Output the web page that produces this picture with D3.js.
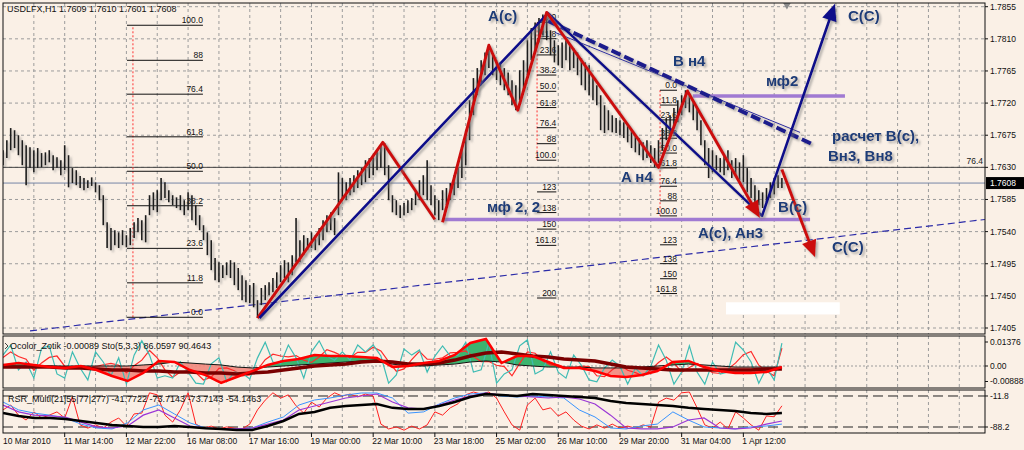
<!DOCTYPE html>
<html><head><meta charset="utf-8">
<script src="https://cdn.jsdelivr.net/npm/d3@7"></script>
<style>
body{margin:0;background:#faf0e6;}
svg{display:block;font-family:"Liberation Sans",Arial,sans-serif;}
</style></head><body>
<svg id="c" width="1024" height="450"></svg>
<script>
// ---------------- DATA ----------------
const symbolHeader = "USDLFX,H1  1.7609 1.7610 1.7601 1.7608";
const lastPrice = 1.7608;
const priceTicks = [1.7405,1.7450,1.7495,1.7540,1.7585,1.7630,1.7675,1.7720,1.7765,1.7810,1.7855];
const firstDateLabel = "10 Mar 2010";
const dateLabels = ["11 Mar 14:00","12 Mar 22:00","16 Mar 08:00","17 Mar 16:00","19 Mar 00:00","22 Mar 10:00","23 Mar 18:00","25 Mar 02:00","26 Mar 10:00","29 Mar 20:00","31 Mar 04:00","1 Apr 12:00"];

// H1 bars, every 2nd bar, price in pips (7654 -> 1.7654)
const barHigh = [7654,7668,7685,7682,7675,7668,7661,7658,7654,7657,
7650,7651,7654,7647,7644,7640,7661,7647,7629,7626,
7618,7615,7612,7616,7609,7605,7591,7553,7545,7542,
7539,7542,7535,7545,7553,7559,7556,7563,7591,7595,
7598,7615,7609,7598,7591,7588,7591,7584,7595,7591,
7577,7563,7549,7539,7528,7503,7497,7493,7497,7500,
7497,7489,7479,7472,7465,7468,7444,7461,7465,7469,
7475,7483,7493,7500,7497,7507,7559,7528,7535,7531,
7539,7535,7545,7556,7563,7567,7559,7623,7615,7609,
7615,7619,7626,7629,7640,7643,7647,7654,7661,7664,
7633,7591,7584,7577,7580,7584,7587,7598,7612,7619,
7640,7605,7591,7584,7598,7601,7608,7619,7629,7654,
7682,7724,7755,7769,7780,7791,7798,7787,7780,7777,
7769,7763,7752,7745,7766,7780,7808,7825,7833,7839,
7844,7847,7822,7808,7801,7805,7808,7801,7797,7791,
7783,7777,7773,7759,7745,7731,7717,7710,7703,7699,
7696,7693,7689,7682,7675,7671,7665,7668,7661,7657,
7668,7685,7699,7703,7713,7724,7731,7738,7734,7724,
7713,7696,7668,7657,7654,7647,7643,7647,7654,7640,
7643,7637,7647,7629,7615,7605,7598,7595,7601,7609,
7615,7619,7615];
const barLow = [7633,7643,7654,7657,7647,7633,7605,7629,7623,7629,
7630,7633,7637,7626,7629,7619,7626,7602,7608,7605,
7601,7598,7601,7604,7595,7584,7549,7517,7514,7521,
7517,7521,7518,7521,7531,7539,7528,7525,7563,7570,
7567,7584,7587,7581,7577,7573,7570,7563,7570,7556,
7549,7542,7528,7507,7486,7472,7469,7475,7479,7475,
7465,7458,7444,7441,7440,7434,7419,7437,7444,7451,
7455,7461,7469,7475,7469,7479,7497,7497,7507,7514,
7517,7514,7521,7528,7539,7542,7535,7563,7587,7584,
7591,7595,7601,7605,7609,7615,7619,7626,7629,7619,
7584,7567,7563,7559,7563,7566,7570,7577,7584,7591,
7584,7577,7563,7556,7570,7577,7584,7591,7601,7615,
7633,7668,7703,7731,7745,7759,7769,7759,7752,7745,
7738,7731,7717,7710,7724,7738,7759,7780,7794,7805,
7815,7808,7787,7777,7773,7769,7780,7766,7769,7759,
7745,7738,7731,7724,7717,7682,7678,7682,7679,7678,
7675,7671,7665,7657,7651,7647,7640,7643,7636,7630,
7636,7654,7668,7675,7685,7693,7703,7713,7707,7696,
7682,7661,7633,7615,7623,7626,7623,7619,7626,7615,
7618,7612,7609,7595,7587,7581,7577,7573,7581,7587,
7592,7601,7601];

// Fibonacci objects
const fibLevels1 = [0,11.8,23.6,38.2,50,61.8,76.4,88,100];
const fibLevels2 = [0,11.8,23.6,38.2,50,61.8,76.4,88,100,123,138,150,161.8,200];
const fibLevels3 = [0,11.8,23.6,38.2,50,61.8,76.4,88,100,123,138,150,161.8];
const fibLabelText = {0:"0.0",11.8:"11.8",23.6:"23.6",38.2:"38.2",50:"50.0",61.8:"61.8",76.4:"76.4",88:"88",100:"100.0",123:"123",138:"138",150:"150",161.8:"161.8",200:"200"};
const fibAnchors1 = [64.3,103.7,67.4, 7420,7829];
const fibAnchors2 = [277,287,277, 7833,7640];
const fibAnchors3 = [340.8,349.6,340.8, 7738,7562];

// wave drawings  [bar, pips]
const redZig1 = [[132,7419],[197,7665],[224,7557]];
const redZig2 = [[228,7553],[252,7801],[267,7710],[282,7847],[340,7630],[355,7737],[392.6,7559]];
const redArrow2 = [[404,7627],[421.2,7504]];
const blueZig = [[133,7419],[282.7,7846],[393.7,7562],[431.5,7859]];
const blueDash = [[282.7,7835],[420.1,7662]];
const blueThin = [[286.3,7819],[413.4,7679]];
const trendLine = [[14,7401],[509.3,7557]];
const purpleLevels = [[228.2,418.6,7557],[357.9,436.7,7730]];
const greenLevel = [340.8,426.3,7629];
const hLine764 = 1.7630;
const waveLabels = ["A(c)","B н4","мф2","C(C)","расчет B(c),","Bн3, Bн8","A н4","мф 2, 2","B(c)","A(c), Aн3","C(C)"];
const waveLabelAt = [[251.6,7835],[347.5,7772],[395.7,7744],[438.3,7835],[430,7667],[427.9,7639],[320.5,7609],[251,7567],[402,7567],[360.5,7531],[430,7511]];
const whiteBox = [[375,7441],[434,7424]];

// indicator 1 : Ocolor_Zotik + Stochastic
const osc1Label = "Ocolor_Zotik -0.00089  Sto(5,3,3) 86.0597 90.4643";
const osc1Ticks = [0.01376, 0.00, -0.00888];
const osc1TickText = ["0.01376","0.00","-0.00888"];
const oscMain = [0.0006,0.0017,0.0006,-0.0006,-0.0011,0,-0.0023,-0.0057,-0.0086,-0.0040,
0.0029,0.0023,-0.0023,-0.0052,-0.0097,-0.0063,-0.0029,0.0006,0.0029,0.0040,
0.0063,0.0057,0.0057,0.0052,0.0046,-0.0006,0,0.0017,0.0029,0.0063,
0.0132,0.0155,0.0017,0.0057,0.0057,0.0023,-0.0011,-0.0011,-0.0029,-0.0057,
-0.0063,-0.0052,-0.0029,0.0023,0.0029,-0.0006,-0.0029,-0.0040,-0.0040,-0.0034,
-0.0006];
const oscMa = [-0.0006,-0.0006,-0.0006,-0.0006,-0.0011,-0.0011,-0.0017,-0.0023,-0.0023,-0.0029,
-0.0029,-0.0034,-0.0034,-0.0040,-0.0040,-0.0046,-0.0040,-0.0034,-0.0023,-0.0011,
0,0.0006,0.0011,0.0023,0.0029,0.0023,0.0011,0.0011,0.0017,0.0034,
0.0057,0.0074,0.0080,0.0069,0.0057,0.0052,0.0040,0.0034,0.0029,0.0011,
-0.0006,-0.0011,-0.0017,-0.0023,-0.0023,-0.0023,-0.0023,-0.0023,-0.0023,-0.0017,
-0.0017];
const oscSlow = [0,0,0,0,0,0,0,0,0,0.0006,
0.0011,0.0023,0.0017,0.0011,0.0006,-0.0006,-0.0011,-0.0006,0,0.0006,
0.0011,0.0017,0.0023,0.0029,0.0034,0.0011,0,0,0.0006,0.0011,
0.0023,0.0029,0.0023,0.0006,0,-0.0006,-0.0006,-0.0006,-0.0011,-0.0011,
-0.0011,-0.0006,0,0.0006,0.0011,0.0006,0,-0.0006,-0.0006,-0.0006,
-0.0006];
const stochMain = [65,87,33,50,15,80,85,24,15,72,
37,11,72,50,20,59,2,65,96,65,
15,20,15,50,28,4,2,46,59,7,
28,26,13,59,93,50,46,87,59,15,
72,96,63,54,72,54,87,72,87,63,
4,22,78,65,76,28,63,85,63,65,
93,28,33,93,4,24,33,85,98,24,
33,72,28,15,65,43,11,7,37,54,
41,2,37,20,41,87,54,2,28,85,
28,2,50,24,28,93,76,50,4,37,
11,91];
const stochSignal = [60,72,62,56,32,48,60,63,41,37,
41,40,40,44,47,43,27,42,54,75,
59,33,17,28,31,27,11,17,36,37,
31,20,22,33,55,67,63,61,64,54,
49,61,77,71,63,60,71,71,82,74,
51,30,35,55,73,56,56,59,70,71,
74,62,51,51,43,40,20,47,72,69,
52,43,44,38,36,41,40,20,18,33,
44,32,27,20,33,49,61,48,28,38,
47,38,27,25,34,48,66,73,43,30,
20,80];

// indicator 2 : RSR_Multi (Williams %R family)
const osc2Label = "RSR_Multi(21|55|77|277) -41.7722 -73.7143 -73.7143 -54.1463";
const wprLevels = [-11.8, -88.2];
const wprLevelText = ["-11.8","-88.2"];
const wprBlack = [-53.7,-61,-66,-66,-68.5,-73.4,-78.3,-83,-85.7,-88,
-88,-86,-88,-91,-93,-95.6,-95.6,-85.7,-73.4,-56,
-51,-41,-36.5,-34,-31.5,-41,-44,-44,-36.5,-26.6,
-14.3,-6.9,-9.4,-11.8,-6.9,-9.4,-11.8,-14.3,-16.7,-24.1,
-29,-31.5,-34,-36.5,-41,-44,-46.3,-48.8,-53.7,-56,
-53.7];
const wprPurple = [-34,-51,-59,-61,-63.5,-76,-88,-90.6,-85.7,-59,
-46.3,-66,-85.7,-90.6,-93,-93,-90.6,-81,-71,-46.3,
-36.5,-26.6,-16.7,-11.8,-6.9,-26.6,-41,-44,-34,-21.7,
-11.8,-4.4,-9.4,-11.8,-14.3,-16.7,-14.3,-19.2,-31.5,-59,
-90.6,-93,-93,-88,-71,-66,-90.6,-93,-90.6,-81,
-73.4];
const wprBlue = [-26.6,-46,-54,-59,-66,-81,-90.6,-93,-78,-46.3,
-34,-56,-78,-90.6,-93,-93,-90.6,-76,-63.5,-34,
-21.7,-16.7,-9.4,-4.4,-4.4,-16.7,-54,-51,-31.5,-16.7,
-6.9,-4.4,-11.8,-14.3,-11.8,-14.3,-16.7,-46.3,-63.5,-90.6,
-93,-85.7,-81,-51,-71,-88,-90.6,-93,-88,-85.7,
-81];
const wprRed = [-46,-34,-59,-71,-51,-66,-59,-51,-66,-14,
-83,-91,-83,-91,-76,-66,-86,-56,-54,-4,
-9,-59,-76,-46,-4,-81,-91,-86,-93,-88,
-91,-93,-81,-46,-22,-4,-17,-9,-36,-54,
-27,-39,-17,-4,-12,-7,-14,-7,-12,-81,
-93,-88,-96,-86,-93,-83,-51,-59,-41,-31,
-9,-2,-7,-2,-17,-51,-83,-96,-34,-17,
-46,-41,-61,-51,-71,-86,-93,-83,-91,-81,
-91,-86,-91,-83,-88,-27,-17,-22,-4,-2,
-41,-83,-91,-76,-93,-51,-66,-83,-96,-61,
-63,-36];

// ---------------- LAYOUT ----------------
const L = 3, R = 985;
const M = {top:3, bottom:334};
const P1 = {top:336, bottom:388};
const P2 = {top:390, bottom:433};
const lastBar = 404;
const pip = v => 1 + v/10000;

const svg = d3.select("#c");
const x = d3.scaleLinear().domain([0,510]).range([3, 3+510*1.928]);
const yM = d3.scaleLinear().domain([1.7405,1.7855]).range([328,6.7]);
const yO = d3.scaleLinear().domain([-0.00888,0.01376]).range([381.5,342]);
const yS = d3.scaleLinear().domain([0,100]).range([385,339]);
const yW = d3.scaleLinear().domain([-100,0]).range([431.8,391.2]);
const xBarsIdx = d3.scaleLinear().domain([0, barHigh.length-1]).range([x(0), x(lastBar)]);
const xFast = d3.scaleLinear().domain([0, stochMain.length-1]).range([x(0), x(lastBar)]);
const xSlow = d3.scaleLinear().domain([0, oscMain.length-1]).range([x(0), x(lastBar)]);

svg.append("rect").attr("width",1024).attr("height",450).attr("fill","#faf0e6");
const defs = svg.append("defs");
const sh = defs.append("filter").attr("id","sh").attr("x","-10%").attr("y","-10%").attr("width","130%").attr("height","130%");
sh.append("feDropShadow").attr("dx",2).attr("dy",2).attr("stdDeviation",1.3).attr("flood-color","#777").attr("flood-opacity",0.55);
const glow = defs.append("filter").attr("id","glow");
glow.append("feGaussianBlur").attr("stdDeviation",0.8);
function clip(id, t, b){ defs.append("clipPath").attr("id",id).append("rect").attr("x",L).attr("y",t).attr("width",R-L).attr("height",b-t); }
clip("cm", M.top, M.bottom); clip("c1", P1.top, P1.bottom); clip("c2", P2.top, P2.bottom);

const gridColor = "#9c9c9c";
const vGridBars = d3.range(16, 500, 16);
function vGrid(g, t, b){
  g.selectAll(null).data(vGridBars).join("line")
   .attr("x1",d=>x(d)).attr("x2",d=>x(d)).attr("y1",t).attr("y2",b)
   .attr("stroke",gridColor).attr("stroke-dasharray","3,3").attr("stroke-width",1);
}

// ---------------- MAIN PANEL ----------------
const gm = svg.append("g").attr("clip-path","url(#cm)");
vGrid(gm, M.top, M.bottom);
gm.selectAll(null).data(priceTicks).join("line")
  .attr("x1",L).attr("x2",R).attr("y1",d=>yM(d)).attr("y2",d=>yM(d))
  .attr("stroke",gridColor).attr("stroke-dasharray","3,3");
gm.append("line").attr("x1",L).attr("x2",R).attr("y1",yM(hLine764)).attr("y2",yM(hLine764)).attr("stroke","#444").attr("stroke-width",1);
gm.append("line").attr("x1",L).attr("x2",R).attr("y1",yM(lastPrice)).attr("y2",yM(lastPrice)).attr("stroke","#7685a6").attr("stroke-width",1);
gm.append("text").attr("x",R-2).attr("y",yM(hLine764)-3).attr("text-anchor","end").attr("font-size",8.5).attr("fill","#222").text("76.4");

// long thin dashed trend line
gm.append("path").attr("d", d3.line()(trendLine.map(d=>[x(d[0]), yM(pip(d[1]))])))
  .attr("fill","none").attr("stroke","#2b2ba8").attr("stroke-width",1.2).attr("stroke-dasharray","7,4");

// fibonacci objects
function drawFib(levels, a){
  const [b0,b1,bv,p0,p100] = a;
  const price = l => pip(p0 + (p100-p0)*l/100);
  gm.append("line").attr("x1",x(bv)).attr("x2",x(bv)).attr("y1",yM(pip(p0))).attr("y2",yM(pip(p100)))
    .attr("stroke","#ff3030").attr("stroke-width",1).attr("stroke-dasharray","2,2");
  gm.selectAll(null).data(levels).join("line")
    .attr("x1",x(b0)).attr("x2",x(b1)).attr("y1",l=>yM(price(l))).attr("y2",l=>yM(price(l)))
    .attr("stroke","#111").attr("stroke-width",1);
  gm.selectAll(null).data(levels).join("text")
    .attr("x",x(b1)).attr("y",l=>yM(price(l))-2).attr("text-anchor","end")
    .attr("font-size",8.5).attr("fill","#111").text(l=>fibLabelText[l]);
}
drawFib(fibLevels1, fibAnchors1);
drawFib(fibLevels2, fibAnchors2);
drawFib(fibLevels3, fibAnchors3);

// price bars
const gb = gm.append("g").attr("filter","url(#sh)");
gb.selectAll(null).data(barHigh).join("line")
  .attr("x1",(d,i)=>xBarsIdx(i)).attr("x2",(d,i)=>xBarsIdx(i))
  .attr("y1",d=>yM(pip(d))).attr("y2",(d,i)=>yM(pip(barLow[i])))
  .attr("stroke","#1b1b1b").attr("stroke-width",1.6);

// purple and green levels
gm.selectAll(null).data(purpleLevels).join("line")
  .attr("x1",d=>x(d[0])).attr("x2",d=>x(d[1])).attr("y1",d=>yM(pip(d[2]))).attr("y2",d=>yM(pip(d[2])))
  .attr("stroke","#a07ad2").attr("stroke-width",3.5);
gm.append("line").attr("x1",x(greenLevel[0])).attr("x2",x(greenLevel[1]))
  .attr("y1",yM(pip(greenLevel[2]))).attr("y2",yM(pip(greenLevel[2])))
  .attr("stroke","#3de23d").attr("stroke-width",5).attr("filter","url(#glow)");

// wave lines
function pathOf(pts){ return pts.map(d=>[x(d[0]), yM(pip(d[1]))]); }
function drawWave(pts, color, width, arrow, dash){
  const pp = pathOf(pts);
  const g = gm.append("g").attr("filter","url(#sh)");
  let linePts = pp.slice();
  if(arrow){
    const a = pp[pp.length-2], b = pp[pp.length-1];
    const ang = Math.atan2(b[1]-a[1], b[0]-a[0]);
    const len = 17, w = 7.5;
    const bx = b[0]-len*Math.cos(ang), by = b[1]-len*Math.sin(ang);
    linePts[linePts.length-1] = [bx+2*Math.cos(ang), by+2*Math.sin(ang)];
    g.append("path").attr("d", d3.line()(linePts)).attr("fill","none").attr("stroke",color)
      .attr("stroke-width",width).attr("stroke-linejoin","round").attr("stroke-dasharray",dash||null);
    g.append("path").attr("d", d3.line()([b,[bx+w*Math.sin(ang), by-w*Math.cos(ang)],[bx-w*Math.sin(ang), by+w*Math.cos(ang)]])+"Z")
      .attr("fill",color);
  } else {
    g.append("path").attr("d", d3.line()(linePts)).attr("fill","none").attr("stroke",color)
      .attr("stroke-width",width).attr("stroke-linejoin","round").attr("stroke-dasharray",dash||null);
  }
}
drawWave(blueThin, "#2a2aa0", 1, false);
drawWave(blueDash, "#1b1b8c", 4, false, "10,4");
drawWave(redZig1, "#cc1010", 3, false);
drawWave(blueZig, "#10108a", 2.6, true);
drawWave(redZig2, "#cc1010", 3, true);
drawWave(redArrow2, "#cc1010", 3, true);

// white box
gm.append("rect").attr("x",x(whiteBox[0][0])).attr("y",yM(pip(whiteBox[0][1])))
  .attr("width",x(whiteBox[1][0])-x(whiteBox[0][0])).attr("height",yM(pip(whiteBox[1][1]))-yM(pip(whiteBox[0][1])))
  .attr("fill","#ffffff");

// marker triangle at top
gm.append("path").attr("d", d3.symbol().type(d3.symbolTriangle).size(40)()).attr("transform",`translate(${x(406.6)},${M.top+1}) rotate(180)`).attr("fill","#8a8a8a");

// wave labels
svg.append("g").attr("filter","url(#sh)").selectAll(null).data(waveLabels).join("text")
  .attr("x",(d,i)=>x(waveLabelAt[i][0])).attr("y",(d,i)=>yM(pip(waveLabelAt[i][1])))
  .attr("font-size",15).attr("font-weight","bold").attr("fill","#1f3c78").text(d=>d);

// header
svg.append("text").attr("x",7).attr("y",12).attr("font-size",9).attr("fill","#111").text(symbolHeader);

// ---------------- INDICATOR 1 ----------------
const g1 = svg.append("g").attr("clip-path","url(#c1)");
vGrid(g1, P1.top, P1.bottom);
g1.append("line").attr("x1",L).attr("x2",R).attr("y1",yO(0)).attr("y2",yO(0)).attr("stroke",gridColor).attr("stroke-dasharray","2,2");
// fills between oscMain and oscSlow
const aboveClip = defs.append("clipPath").attr("id","above");
aboveClip.append("path").attr("d", d3.area().x((d,i)=>xSlow(i)).y0(P1.top).y1(d=>yO(d))(oscSlow));
const belowClip = defs.append("clipPath").attr("id","below");
belowClip.append("path").attr("d", d3.area().x((d,i)=>xSlow(i)).y0(P1.bottom).y1(d=>yO(d))(oscSlow));
const fillArea = d3.area().x((d,i)=>xSlow(i)).y0((d,i)=>yO(oscSlow[i])).y1(d=>yO(d));
g1.append("g").attr("clip-path","url(#below)").append("path").attr("d",fillArea(oscMain)).attr("fill","#f2877c").attr("opacity",0.9);
g1.append("g").attr("clip-path","url(#above)").append("path").attr("d",fillArea(oscMain)).attr("fill","#3cb46e");
const lineFast = (ys) => d3.line().x((d,i)=>xFast(i)).y(d=>ys(d));
const lineSlow = (ys) => d3.line().x((d,i)=>xSlow(i)).y(d=>ys(d));
g1.append("path").attr("d",lineFast(yS)(stochSignal)).attr("fill","none").attr("stroke","#ff2a2a").attr("stroke-width",1.2);
g1.append("path").attr("d",lineFast(yS)(stochMain)).attr("fill","none").attr("stroke","#3fbcb4").attr("stroke-width",1.2);
g1.append("path").attr("d",lineSlow(yO)(oscSlow)).attr("fill","none").attr("stroke","#111").attr("stroke-width",1);
g1.append("path").attr("d",lineSlow(yO)(oscMa)).attr("fill","none").attr("stroke","#7a0000").attr("stroke-width",3.5);
g1.append("path").attr("d",lineSlow(yO)(oscMain)).attr("fill","none").attr("stroke","#ff0000").attr("stroke-width",2.5);
svg.append("text").attr("x",10).attr("y",349).attr("font-size",9).attr("fill","#111").text(osc1Label);
svg.append("path").attr("d","M5,343 l3,3 l-3,3").attr("fill","none").attr("stroke","#444");

// ---------------- INDICATOR 2 ----------------
const g2 = svg.append("g").attr("clip-path","url(#c2)");
vGrid(g2, P2.top, P2.bottom);
g2.selectAll(null).data(wprLevels).join("line").attr("x1",L).attr("x2",R).attr("y1",d=>yW(d)).attr("y2",d=>yW(d))
  .attr("stroke","#222").attr("stroke-dasharray","10,5").attr("stroke-width",1);
svg.append("text").attr("x",8).attr("y",402).attr("font-size",9).attr("fill","#111").text(osc2Label);
g2.append("path").attr("d",lineFast(yW)(wprRed)).attr("fill","none").attr("stroke","#ff2020").attr("stroke-width",1);
g2.append("path").attr("d",lineSlow(yW)(wprBlue)).attr("fill","none").attr("stroke","#3a94ff").attr("stroke-width",1);
g2.append("path").attr("d",lineSlow(yW)(wprPurple)).attr("fill","none").attr("stroke","#9a36d6").attr("stroke-width",1.2);
g2.append("path").attr("d",lineSlow(yW)(wprBlack)).attr("fill","none").attr("stroke","#000").attr("stroke-width",2.5);

// ---------------- FRAMES & AXES ----------------
[[M.top,M.bottom],[P1.top,P1.bottom],[P2.top,P2.bottom]].forEach(([t,b])=>{
  svg.append("rect").attr("x",L).attr("y",t).attr("width",R-L).attr("height",b-t).attr("fill","none").attr("stroke","#111").attr("stroke-width",1);
});
const ax = svg.append("g").attr("font-size",8.5).attr("fill","#111");
function rightTicks(vals, ys, texts){
  vals.forEach((v,i)=>{
    ax.append("line").attr("x1",R).attr("x2",R+3).attr("y1",ys(v)).attr("y2",ys(v)).attr("stroke","#111");
    ax.append("text").attr("x",R+5).attr("y",ys(v)).attr("dy","0.35em").text(texts[i]);
  });
}
rightTicks(priceTicks, yM, priceTicks.map(d=>d.toFixed(4)));
rightTicks(osc1Ticks, yO, osc1TickText);
rightTicks(wprLevels, yW, wprLevelText);
// last price marker
ax.append("rect").attr("x",R+1).attr("y",yM(lastPrice)-6).attr("width",1024-R-1).attr("height",12).attr("fill","#000");
ax.append("text").attr("x",R+5).attr("y",yM(lastPrice)).attr("dy","0.35em").attr("fill","#fff").text(lastPrice.toFixed(4));
// date axis
const dateBars = dateLabels.map((d,i)=>32*(i+1));
ax.append("text").attr("x",x(0)).attr("y",444).text(firstDateLabel);
dateLabels.forEach((d,i)=>{
  ax.append("line").attr("x1",x(dateBars[i])).attr("x2",x(dateBars[i])).attr("y1",P2.bottom).attr("y2",P2.bottom+4).attr("stroke","#111");
  ax.append("text").attr("x",x(dateBars[i])-1).attr("y",444).text(d);
});
</script>
</body></html>
